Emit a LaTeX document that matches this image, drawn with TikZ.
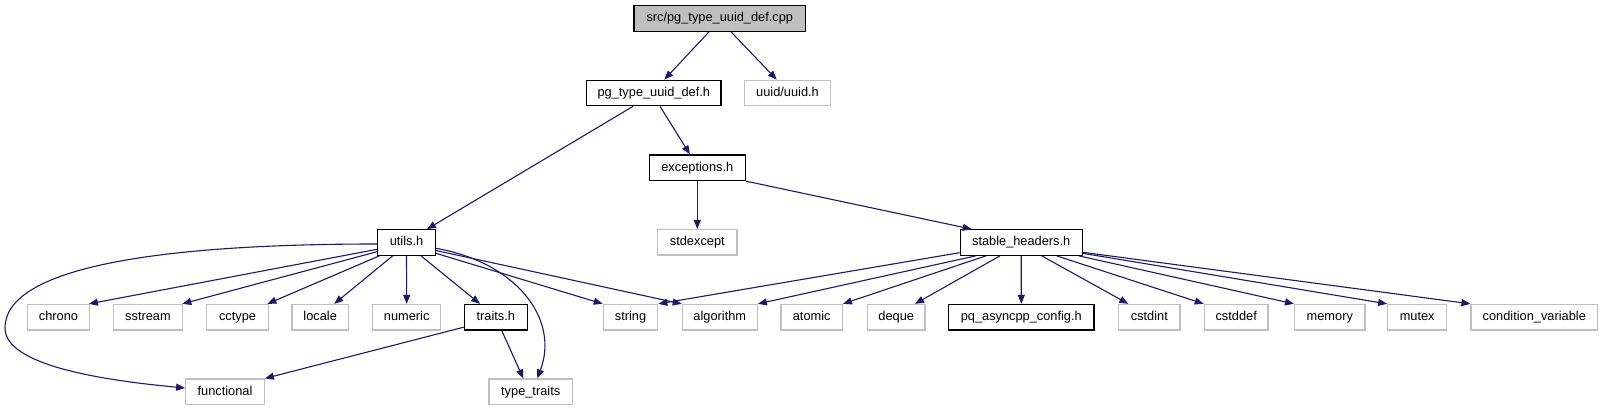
\documentclass[tikz,border=0pt]{standalone}
\usepackage{fontspec}
\setmainfont{Liberation Sans}
\usetikzlibrary{arrows.meta}
\definecolor{edgeblue}{HTML}{191970}
\definecolor{grayline}{HTML}{BFBFBF}
\begin{document}
\begin{tikzpicture}[x=1pt,y=-1pt,
  box/.style={draw=black, line width=1.2pt, inner sep=0pt, minimum height=25.5pt,
    text height=9.5pt, text depth=2.5pt, font=\fontsize{12.8}{15}\selectfont, text=black},
  ext/.style={box, draw=grayline},
  rootbox/.style={box, fill=grayline},
  edge/.style={draw=edgeblue, line width=1.1pt, -{Triangle[length=9pt,width=7pt]}}]
\fill[white] (0,0) rectangle (1603,411);
\useasboundingbox (0,0) rectangle (1603,411);
% nodes
\node[rootbox, minimum width=171.7pt] (root) at (719.8,18.5) {src/pg\_type\_uuid\_def.cpp};
\node[box, minimum width=134.3pt] (pgdef) at (653.8,93) {pg\_type\_uuid\_def.h};
\node[ext, minimum width=86.4pt] (uuid) at (787.5,93) {uuid/uuid.h};
\node[box, minimum width=96pt] (exc) at (697.3,167.8) {exceptions.h};
\node[box, minimum width=57.6pt] (utils) at (406.5,242.5) {utils.h};
\node[ext, minimum width=79.3pt] (stdexcept) at (697.3,242.3) {stdexcept};
\node[box, minimum width=122pt] (stable) at (1021.2,242.5) {stable\_headers.h};
% row
\node[ext, minimum width=61.6pt] (chrono) at (58.5,317.2) {chrono};
\node[ext, minimum width=69.4pt] (sstream) at (148,317.2) {sstream};
\node[ext, minimum width=61.6pt] (cctype) at (237.5,317.2) {cctype};
\node[ext, minimum width=56.3pt] (locale) at (320.2,317.2) {locale};
\node[ext, minimum width=68pt] (numeric) at (406.7,317.2) {numeric};
\node[box, minimum width=63pt] (traits) at (495.8,317.2) {traits.h};
\node[ext, minimum width=54.4pt] (string) at (630.5,317.2) {string};
\node[ext, minimum width=75pt] (algorithm) at (719.8,317.2) {algorithm};
\node[ext, minimum width=61.3pt] (atomic) at (811.7,317.2) {atomic};
\node[ext, minimum width=57.7pt] (deque) at (896.2,317.2) {deque};
\node[box, minimum width=145.3pt] (pqconfig) at (1021.3,317.2) {pq\_asyncpp\_config.h};
\node[ext, minimum width=61.5pt] (cstdint) at (1149.3,317.2) {cstdint};
\node[ext, minimum width=63.7pt] (cstddef) at (1236.2,317.2) {cstddef};
\node[ext, minimum width=70.5pt] (memory) at (1329.8,317.2) {memory};
\node[ext, minimum width=59pt] (mutex) at (1417.2,317.2) {mutex};
\node[ext, minimum width=126.5pt] (condvar) at (1534.3,317.2) {condition\_variable};
% bottom
\node[ext, minimum width=78.6pt] (functional) at (225,391.8) {functional};
\node[ext, minimum width=83.3pt] (typetraits) at (530.7,391.8) {type\_traits};
\coordinate (loopL) at (5,328);
% edges
\draw[edge] ([xshift=-10.8pt]root.south) -- ([xshift=10.5pt]pgdef.north);
\draw[edge] ([xshift=11.2pt]root.south) -- ([xshift=-10.8pt]uuid.north);
\draw[edge] ([xshift=-20.8pt]pgdef.south) -- ([xshift=20.5pt]utils.north);
\draw[edge] ([xshift=6.2pt]pgdef.south) -- ([xshift=-7.3pt]exc.north);
\draw[edge] (exc.south) -- (stdexcept.north);
\draw[edge] (exc.south east) -- ([xshift=-49.5pt]stable.north);
\draw[edge] ([yshift=-1.5pt]utils.west) .. controls (170,244) and (5,265) .. (loopL)
  .. controls (5,365) and (100,380) .. ([yshift=3.8pt]functional.west);
\draw[edge] ([yshift=-6.8pt]utils.west) -- ([xshift=-1pt]chrono.north east);
\draw[edge] ([yshift=-9.2pt]utils.west) -- ([xshift=-1pt]sstream.north east);
\draw[edge] ([xshift=2.3pt]utils.south west) -- ([xshift=-1.5pt]cctype.north east);
\draw[edge] ([xshift=-13.8pt]utils.south) -- ([xshift=14pt]locale.north);
\draw[edge] (utils.south) -- (numeric.north);
\draw[edge] ([xshift=14.5pt]utils.south) -- ([xshift=-15.8pt]traits.north);
\draw[edge] ([yshift=-5.8pt]utils.east) .. controls (515,262) and (560,318) .. ([xshift=6.6pt]typetraits.north);
\draw[edge] ([yshift=-10.8pt]utils.east) -- (string.north west);
\draw[edge] ([yshift=-8pt]utils.east) -- (algorithm.north west);
\draw[edge] ([yshift=-10pt]traits.west) -- (functional.north east);
\draw[edge] ([xshift=5.9pt]traits.south) -- ([xshift=-7.4pt]typetraits.north);
\draw[edge] ([yshift=-10.2pt]stable.west) -- (string.north east);
\draw[edge] ([xshift=-45.5pt]stable.south) -- (algorithm.north east);
\draw[edge] ([xshift=-35.2pt]stable.south) -- (atomic.north east);
\draw[edge] ([xshift=-21.2pt]stable.south) -- ([xshift=18.8pt]deque.north);
\draw[edge] (stable.south) -- (pqconfig.north);
\draw[edge] ([xshift=20.5pt]stable.south) -- ([xshift=-21pt]cstdint.north);
\draw[edge] ([xshift=35.5pt]stable.south) -- (cstddef.north west);
\draw[edge] ([xshift=-4pt]stable.south east) -- (memory.north west);
\draw[edge] ([yshift=-10.8pt]stable.east) -- (mutex.north west);
\draw[edge] ([yshift=-9.8pt]stable.east) -- (condvar.north west);
\end{tikzpicture}
\end{document}
